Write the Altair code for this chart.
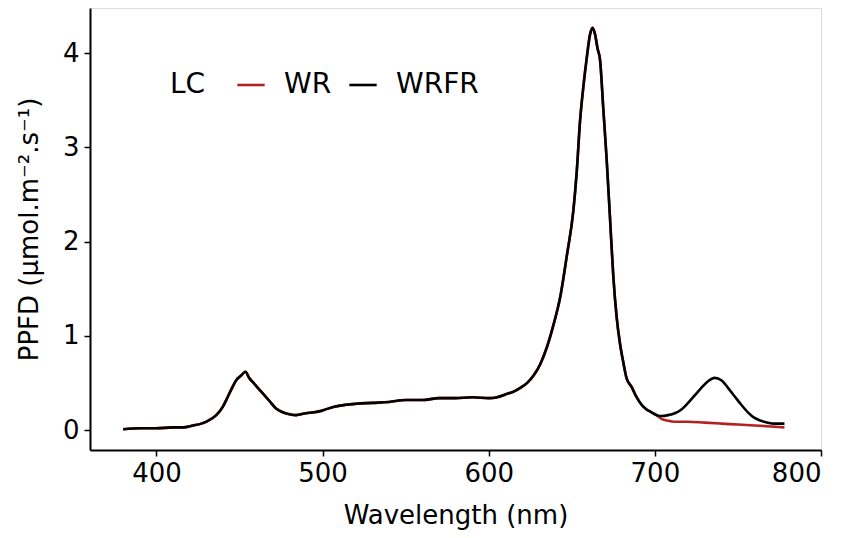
import altair as alt
import pandas as pd

# shared part of the spectrum (both light conditions identical up to ~700 nm)
wl_common = [380, 390, 400, 410, 416, 422, 427, 431, 436, 440, 442, 445, 448, 451, 453.5,
             456, 458, 461, 464, 468, 472, 476, 480, 484, 490, 495, 500, 507, 514, 520,
             530, 540, 550, 560, 570, 580, 590, 600, 605, 610, 615, 619, 623, 627, 631,
             635, 639, 643, 647, 651, 653, 655, 657, 659, 661, 662.5, 664, 665.5, 667, 669,
             671, 673, 675, 677, 679, 681, 683, 686, 689, 692, 695, 698, 701]
v_common = [0.01, 0.02, 0.02, 0.03, 0.03, 0.05, 0.07, 0.10, 0.16, 0.25, 0.32, 0.43, 0.53, 0.58, 0.62,
            0.55, 0.51, 0.45, 0.39, 0.31, 0.23, 0.19, 0.17, 0.16, 0.18, 0.19, 0.21, 0.25, 0.27, 0.28,
            0.29, 0.30, 0.32, 0.32, 0.34, 0.34, 0.35, 0.34, 0.35, 0.38, 0.41, 0.45, 0.50, 0.58, 0.70,
            0.88, 1.12, 1.41, 1.85, 2.34, 2.75, 3.29, 3.65, 3.95, 4.20, 4.27, 4.20, 4.05, 3.93, 3.40,
            2.87, 2.25, 1.63, 1.20, 0.92, 0.72, 0.55, 0.46, 0.35, 0.27, 0.22, 0.19, 0.16]

# tails beyond 700 nm
wl_wr_tail = [704, 708, 712, 720, 730, 740, 750, 760, 770, 778]
v_wr_tail = [0.12, 0.10, 0.09, 0.09, 0.08, 0.07, 0.06, 0.05, 0.04, 0.03]

wl_wrfr_tail = [704, 708, 712, 716, 720, 724, 728, 732, 736, 740, 744, 748, 752, 756, 760,
                764, 768, 772, 778]
v_wrfr_tail = [0.15, 0.16, 0.18, 0.22, 0.29, 0.37, 0.45, 0.52, 0.555, 0.53, 0.45, 0.36, 0.27,
               0.19, 0.13, 0.10, 0.08, 0.07, 0.07]

series = ["WR", "WRFR"]
colors = ["#b22222", "#000000"]
x_ticks = [400, 500, 600, 700, 800]
y_ticks = [0, 1, 2, 3, 4]

rows = []
for w, v in zip(wl_common + wl_wr_tail, v_common + v_wr_tail):
    rows.append({"wl": w, "ppfd": v, "LC": "WR", "ord": 0})
for w, v in zip(wl_common + wl_wrfr_tail, v_common + v_wrfr_tail):
    rows.append({"wl": w, "ppfd": v, "LC": "WRFR", "ord": 1})
df = pd.DataFrame(rows)

FONT = "DejaVu Sans"
FS = 26
LFS = 28

chart = alt.Chart(df).mark_line(strokeWidth=2.6, interpolate="monotone").encode(
    x=alt.X("wl:Q", title="Wavelength (nm)",
            scale=alt.Scale(domain=[360, 800], nice=False, zero=False),
            axis=alt.Axis(values=x_ticks, grid=False, labelFontSize=FS, titleFontSize=FS,
                          labelFont=FONT, titleFont=FONT, titleFontWeight="normal",
                          labelColor="black", titleColor="black",
                          domainColor="black", domainWidth=2, tickColor="black",
                          tickWidth=1.5, tickSize=6, labelPadding=4, titlePadding=16)),
    y=alt.Y("ppfd:Q", title="PPFD (µmol.m⁻².s⁻¹)",
            scale=alt.Scale(domain=[-0.21, 4.48], nice=False, zero=False),
            axis=alt.Axis(values=y_ticks, grid=False, labelFontSize=FS, titleFontSize=FS,
                          labelFont=FONT, titleFont=FONT, titleFontWeight="normal",
                          labelColor="black", titleColor="black",
                          domainColor="black", domainWidth=2, tickColor="black",
                          tickWidth=1.5, tickSize=6, labelPadding=5, titlePadding=20)),
    color=alt.Color("LC:N", scale=alt.Scale(domain=series, range=colors),
                    legend=alt.Legend(orient="none", legendX=80, legendY=62,
                                      direction="horizontal", titleOrient="left",
                                      title="LC", titleFontSize=LFS, labelFontSize=LFS,
                                      titleFont=FONT, labelFont=FONT,
                                      titleFontWeight="normal", titleColor="black",
                                      labelColor="black", symbolType="stroke",
                                      symbolStrokeWidth=2.6, symbolSize=750,
                                      columnPadding=12, titlePadding=30, labelOffset=18)),
    order=alt.Order("ord:Q"),
).properties(
    width=731, height=442,
    autosize=alt.AutoSizeParams(type="none"),
    padding={"left": 82, "top": 0, "right": 22, "bottom": 80},
).configure_view(stroke=None).configure(background="white")

chart.save("out.html", embed_options={"renderer": "svg", "actions": False})
